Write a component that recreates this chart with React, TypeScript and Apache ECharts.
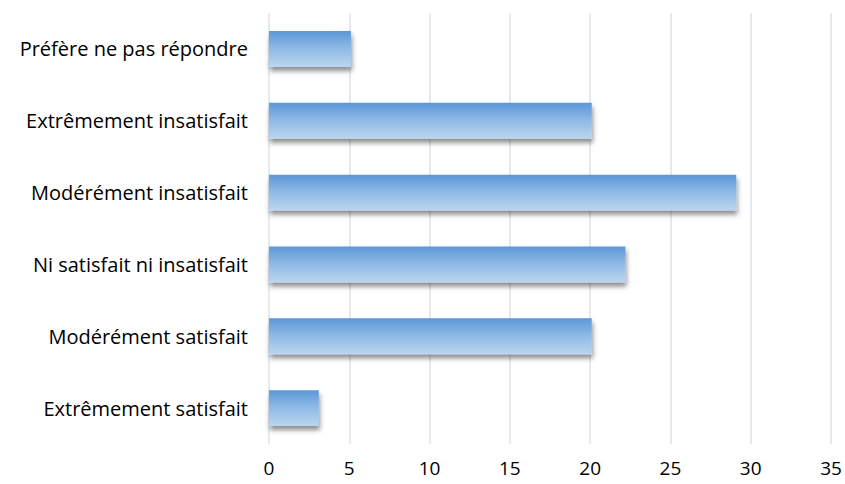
import React, { useEffect, useRef } from "react";
import * as echarts from "echarts";

const categories = [
  "Extrêmement satisfait",
  "Modérément satisfait",
  "Ni satisfait ni insatisfait",
  "Modérément insatisfait",
  "Extrêmement insatisfait",
  "Préfère ne pas répondre",
];
const values = [3.1, 20.1, 22.2, 29.1, 20.1, 5.1];
const xTicks = { min: 0, max: 35, interval: 5 };

export default function App() {
  const ref = useRef<HTMLDivElement>(null);
  useEffect(() => {
    if (!ref.current) return;
    const chart = echarts.init(ref.current, undefined, { renderer: "svg" });
    chart.setOption({
      animation: false,
      backgroundColor: "#ffffff",
      grid: { left: 269, right: 14, top: 13, bottom: 40, containLabel: false },
      xAxis: {
        type: "value",
        min: xTicks.min,
        max: xTicks.max,
        interval: xTicks.interval,
        axisLine: { show: false },
        axisTick: { show: false },
        axisLabel: { color: "#000", fontSize: 19, fontFamily: "Open Sans", margin: 14 },
        splitLine: { show: true, lineStyle: { color: "#dde3ec", width: 1.5 } },
      },
      yAxis: {
        type: "category",
        data: categories,
        axisLine: { show: false },
        axisTick: { show: false },
        axisLabel: { color: "#000", fontSize: 20, fontFamily: "Open Sans", margin: 21 },
        splitLine: { show: false },
      },
      series: [
        {
          type: "bar",
          data: values,
          barCategoryGap: "50%",
          itemStyle: {
            color: new echarts.graphic.LinearGradient(0, 0, 0, 1, [
              { offset: 0, color: "#5b97d8" },
              { offset: 0.5, color: "#90bbe6" },
              { offset: 1, color: "#bcd5ef" },
            ]),
            shadowColor: "rgba(0,0,0,0.45)",
            shadowBlur: 5,
            shadowOffsetY: 4,
            shadowOffsetX: 1,
          },
        },
      ],
    });
    return () => chart.dispose();
  }, []);
  return (
    <div
      ref={ref}
      style={{ position: "absolute", left: 0, top: 0, width: 845, height: 484 }}
    />
  );
}
